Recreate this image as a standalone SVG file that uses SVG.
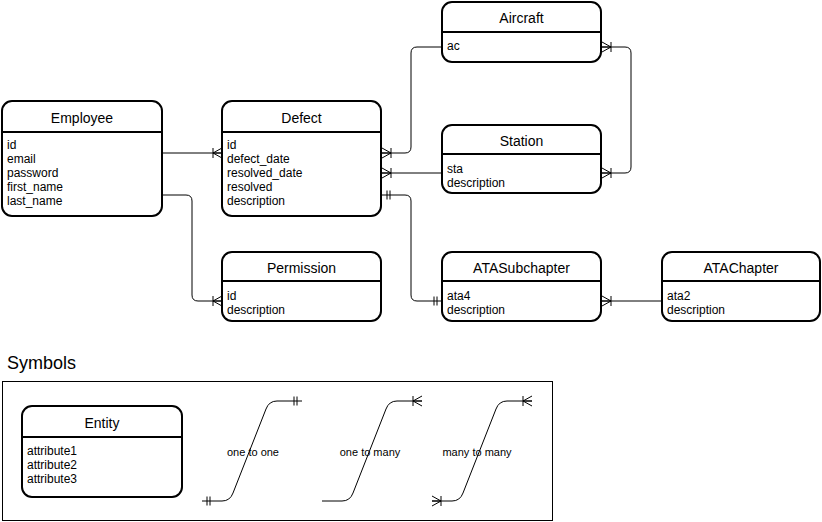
<svg xmlns="http://www.w3.org/2000/svg" width="822" height="522" viewBox="0 0 822 522">
<style>
.box{fill:#fff;stroke:#000;stroke-width:2}
.hdr{stroke:#000;stroke-width:2}
.title{font-family:"Liberation Sans",Arial,sans-serif;font-size:14px;text-anchor:middle;fill:#000}
.attr{font-family:"Liberation Sans",Arial,sans-serif;font-size:12px;fill:#000}
.lbl{font-family:"Liberation Sans",Arial,sans-serif;font-size:11px;text-anchor:middle;fill:#000}
.edge{fill:none;stroke:#000;stroke-width:1}
.mk{fill:none;stroke:#000;stroke-width:1}
</style>
<defs>
<marker id="crow" markerUnits="userSpaceOnUse" viewBox="-12 -7 13 14" markerWidth="13" markerHeight="14" refX="0" refY="0" orient="auto-start-reverse" overflow="visible">
<path class="mk" d="M-9,0 L0,-5 M-9,0 L0,5 M-9,0 L0,0 M-9,-5 L-9,5"/>
</marker>
<marker id="mand" markerUnits="userSpaceOnUse" viewBox="-12 -7 13 14" markerWidth="13" markerHeight="14" refX="0" refY="0" orient="auto-start-reverse" overflow="visible">
<path class="mk" d="M-8,-4.5 L-8,4.5 M-5,-4.5 L-5,4.5"/>
</marker>
</defs>

<g id="connectors">
<path class="edge" d="M162,153 L222,153" marker-end="url(#crow)"/>
<path class="edge" d="M162,195 L186,195 Q192,195 192,201 L192,295 Q192,301 198,301 L222,301" marker-end="url(#crow)"/>
<path class="edge" d="M382,153 L405,153 Q411,153 411,147 L411,53 Q411,47 417,47 L442,47" marker-start="url(#crow)"/>
<path class="edge" d="M602,47 L625,47 Q631,47 631,53 L631,167 Q631,173 625,173 L602,173" marker-start="url(#crow)" marker-end="url(#crow)"/>
<path class="edge" d="M382,173 L442,173" marker-start="url(#crow)"/>
<path class="edge" d="M382,195 L405,195 Q411,195 411,201 L411,295 Q411,301 417,301 L442,301" marker-start="url(#mand)" marker-end="url(#mand)"/>
<path class="edge" d="M602,301 L662,301" marker-start="url(#crow)"/>
</g>

<g id="Employee">
<rect class="box" x="2" y="101" width="160" height="115" rx="10"/>
<line class="hdr" x1="2" y1="132" x2="162" y2="132"/>
<text class="title" x="82" y="123">Employee</text>
<text class="attr" x="7" y="149">id</text>
<text class="attr" x="7" y="163">email</text>
<text class="attr" x="7" y="177">password</text>
<text class="attr" x="7" y="191">first_name</text>
<text class="attr" x="7" y="205">last_name</text>
</g>

<g id="Defect">
<rect class="box" x="222" y="101" width="159" height="115" rx="10"/>
<line class="hdr" x1="222" y1="132" x2="381" y2="132"/>
<text class="title" x="301.5" y="123">Defect</text>
<text class="attr" x="227" y="149">id</text>
<text class="attr" x="227" y="163">defect_date</text>
<text class="attr" x="227" y="177">resolved_date</text>
<text class="attr" x="227" y="191">resolved</text>
<text class="attr" x="227" y="205">description</text>
</g>

<g id="Aircraft">
<rect class="box" x="442" y="2" width="159" height="60" rx="10"/>
<line class="hdr" x1="442" y1="32" x2="601" y2="32"/>
<text class="title" x="521.5" y="23">Aircraft</text>
<text class="attr" x="447" y="50">ac</text>
</g>

<g id="Station">
<rect class="box" x="442" y="125" width="159" height="68" rx="10"/>
<line class="hdr" x1="442" y1="154" x2="601" y2="154"/>
<text class="title" x="521.5" y="146">Station</text>
<text class="attr" x="447" y="173">sta</text>
<text class="attr" x="447" y="187">description</text>
</g>

<g id="Permission">
<rect class="box" x="222" y="252" width="159" height="69" rx="10"/>
<line class="hdr" x1="222" y1="281" x2="381" y2="281"/>
<text class="title" x="301.5" y="273">Permission</text>
<text class="attr" x="227" y="300">id</text>
<text class="attr" x="227" y="314">description</text>
</g>

<g id="ATASubchapter">
<rect class="box" x="442" y="252" width="159" height="69" rx="10"/>
<line class="hdr" x1="442" y1="281" x2="601" y2="281"/>
<text class="title" x="521.5" y="273">ATASubchapter</text>
<text class="attr" x="447" y="300">ata4</text>
<text class="attr" x="447" y="314">description</text>
</g>

<g id="ATAChapter">
<rect class="box" x="662" y="252" width="158" height="69" rx="10"/>
<line class="hdr" x1="662" y1="281" x2="820" y2="281"/>
<text class="title" x="741" y="273">ATAChapter</text>
<text class="attr" x="667" y="300">ata2</text>
<text class="attr" x="667" y="314">description</text>
</g>

<g id="Symbols">
<text x="7" y="369" style="font-family:'Liberation Sans',Arial,sans-serif;font-size:18px;fill:#000">Symbols</text>
<rect x="2.5" y="381.5" width="550" height="139" fill="none" stroke="#000" stroke-width="1"/>
</g>

<g id="Entity">
<rect class="box" x="22" y="406" width="160" height="91" rx="10"/>
<line class="hdr" x1="22" y1="437" x2="182" y2="437"/>
<text class="title" x="102" y="428">Entity</text>
<text class="attr" x="27" y="455">attribute1</text>
<text class="attr" x="27" y="469">attribute2</text>
<text class="attr" x="27" y="483">attribute3</text>
</g>

<g id="symbol-edges">
<path class="edge" d="M202,501 L222,501 Q230,501 233,493 L266,409 Q269,401 277,401 L302,401" marker-start="url(#mand)" marker-end="url(#mand)"/>
<text class="lbl" x="253" y="456">one to one</text>
<path class="edge" d="M322,501 L342,501 Q350,501 353,493 L386,409 Q389,401 397,401 L422,401" marker-end="url(#crow)"/>
<text class="lbl" x="370" y="456">one to many</text>
<path class="edge" d="M432,501 L452,501 Q460,501 463,493 L496,409 Q499,401 507,401 L532,401" marker-start="url(#crow)" marker-end="url(#crow)"/>
<text class="lbl" x="477" y="456">many to many</text>
</g>
</svg>
